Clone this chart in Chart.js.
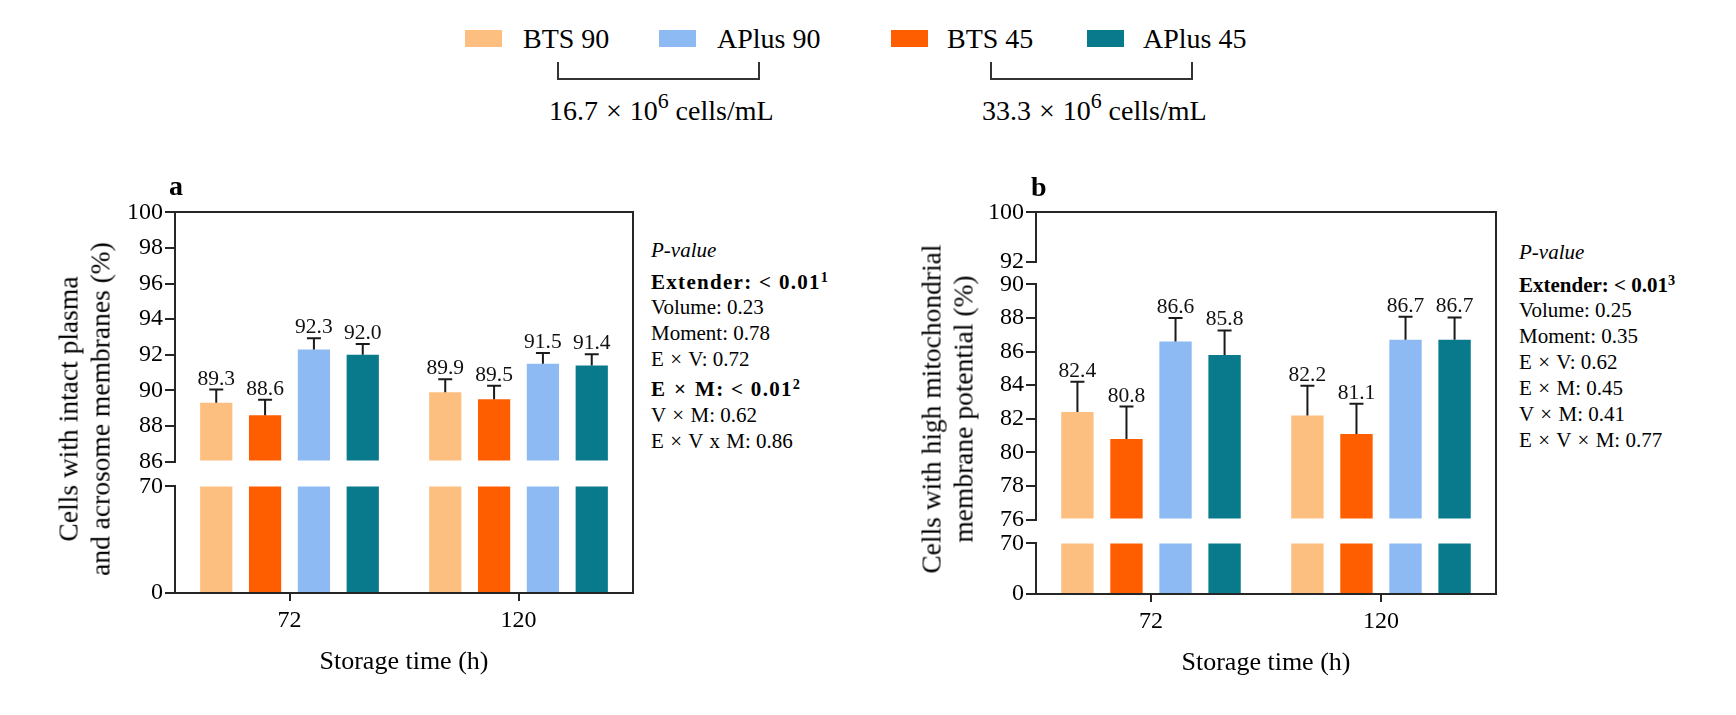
<!DOCTYPE html>
<html><head><meta charset="utf-8">
<script src="https://cdn.jsdelivr.net/npm/chart.js@4.4.1/dist/chart.umd.min.js"></script>
<style>
html,body{margin:0;padding:0;background:#fff;}
#page{position:relative;width:1736px;height:715px;overflow:hidden;font-family:"Liberation Serif","Times New Roman",serif;color:#000;background:#fff;}
.abs{position:absolute;white-space:nowrap;}
canvas{position:absolute;}
.sup{position:relative;top:-0.5em;font-size:0.68em;}
.sup6{position:relative;top:-0.55em;font-size:0.78em;}
.x{margin:0 1.2px;}
.xl{margin:0 1px;}
</style></head><body><div id="page"></div>
<script>
// ---------------- DATA ----------------
const categories = ['72', '120'];
const seriesNames = ['BTS 90', 'BTS 45', 'APlus 90', 'APlus 45'];
const seriesColors = ['#FDBF80', '#FF5E00', '#8EBAF3', '#087A8B'];
const legendOrder = ['BTS 90', 'APlus 90', 'BTS 45', 'APlus 45'];

// Panel a: cells with intact plasma and acrosome membranes (%)
const aBTS90 = [89.3, 89.9];
const aBTS45 = [88.6, 89.5];
const aAPlus90 = [92.3, 91.5];
const aAPlus45 = [92.0, 91.4];
const aBTS90Err = [0.75, 0.73];
const aBTS45Err = [0.88, 0.76];
const aAPlus90Err = [0.63, 0.60];
const aAPlus45Err = [0.60, 0.63];

// Panel b: cells with high mitochondrial membrane potential (%)
const bBTS90 = [82.4, 82.2];
const bBTS45 = [80.8, 81.1];
const bAPlus90 = [86.6, 86.7];
const bAPlus45 = [85.8, 86.7];
const bBTS90Err = [1.80, 1.76];
const bBTS45Err = [1.93, 1.79];
const bAPlus90Err = [1.40, 1.37];
const bAPlus45Err = [1.46, 1.33];

// Tick labels of the broken y axes
const aUpperTicks = [86, 88, 90, 92, 94, 96, 98, 100];
const aLowerTicks = [0, 70];
const bTopTicks = [92, 100];
const bMiddleTicks = [76, 78, 80, 82, 84, 86, 88, 90];
const bLowerTicks = [0, 70];

const xTitle = 'Storage time (h)';
const aYTitle = ['Cells with intact plasma', 'and acrosome membranes (%)'];
const bYTitle = ['Cells with high mitochondrial', 'membrane potential (%)'];

const X = ' <span class="x">×</span> ';
const pValuesA = [
  ['i', 'P-value'], ['bs', 'Extender: &lt; 0.01<span class="sup">1</span>'], ['n', 'Volume: 0.23'],
  ['n', 'Moment: 0.78'], ['n', 'E' + X + 'V: 0.72'], ['bs', 'E' + X + 'M: &lt; 0.01<span class="sup">2</span>'],
  ['n', 'V' + X + 'M: 0.62'], ['n', 'E' + X + 'V <span class="x">x</span> M: 0.86']
];
const pValuesB = [
  ['i', 'P-value'], ['b', 'Extender: &lt; 0.01<span class="sup">3</span>'], ['n', 'Volume: 0.25'],
  ['n', 'Moment: 0.35'], ['n', 'E' + X + 'V: 0.62'], ['n', 'E' + X + 'M: 0.45'],
  ['n', 'V' + X + 'M: 0.41'], ['n', 'E' + X + 'V' + X + 'M: 0.77']
];
const groupLabels = ['16.7 <span class="xl">×</span> 10<span class="sup6">6</span> cells/mL', '33.3 <span class="xl">×</span> 10<span class="sup6">6</span> cells/mL'];

// ---------------- RENDER ----------------
const page = document.getElementById('page');
const FF = '"Liberation Serif", "Times New Roman", serif';
const AX = '#262626';

function addDiv(html, css) {
  const d = document.createElement('div');
  d.className = 'abs';
  d.innerHTML = html;
  Object.assign(d.style, css);
  page.appendChild(d);
  return d;
}

const barDecor = {
  id: 'barDecor',
  afterDatasetsDraw(chart, args, opts) {
    if (!opts.show) return;
    const ctx = chart.ctx;
    const ys = chart.scales.y;
    chart.data.datasets.forEach((ds, di) => {
      const meta = chart.getDatasetMeta(di);
      meta.data.forEach((bar, i) => {
        const v = ds.means[i], e = ds.errs[i];
        const yBar = ys.getPixelForValue(v);
        const yCap = ys.getPixelForValue(v + e);
        ctx.save();
        ctx.strokeStyle = '#1a1a1a';
        ctx.lineWidth = 2;
        ctx.beginPath();
        ctx.moveTo(bar.x, yBar); ctx.lineTo(bar.x, yCap);
        ctx.moveTo(bar.x - 7, yCap); ctx.lineTo(bar.x + 7, yCap);
        ctx.stroke();
        ctx.fillStyle = '#111';
        ctx.font = '21.5px ' + FF;
        ctx.textAlign = 'center';
        ctx.textBaseline = 'alphabetic';
        ctx.fillText(v.toFixed(1), bar.x, yCap - 5);
        ctx.restore();
      });
    });
  }
};

function segment(o) {
  const YW = 80, PT = 16, PB = 16, PR = 6, XH = 90;
  const h = o.bottom - o.top, w = o.R - o.L;
  const cw = YW + w + PR, ch = PT + h + (o.showX ? XH : PB);
  const cv = document.createElement('canvas');
  cv.width = cw; cv.height = ch;
  cv.style.left = (o.L - YW) + 'px';
  cv.style.top = (o.top - PT) + 'px';
  cv.style.width = cw + 'px';
  cv.style.height = ch + 'px';
  page.appendChild(cv);
  new Chart(cv, {
    type: 'bar',
    data: {
      labels: categories,
      datasets: o.series.map((s, k) => ({
        label: seriesNames[k], data: s[0], means: s[0], errs: s[1],
        backgroundColor: seriesColors[k], borderWidth: 0, base: o.min, clip: 0,
        categoryPercentage: 0.853, barPercentage: 0.66
      }))
    },
    options: {
      responsive: false, animation: false, devicePixelRatio: 1,
      layout: { padding: { left: 0, right: PR, top: PT, bottom: o.showX ? 0 : PB } },
      plugins: { legend: { display: false }, tooltip: { enabled: false }, barDecor: { show: o.decor } },
      scales: {
        x: {
          type: 'category', display: o.showX, offset: true,
          grid: { display: true, drawOnChartArea: false, offset: false, tickLength: 8, color: AX, lineWidth: 2 },
          border: { display: true, color: AX, width: 2 },
          ticks: { font: { family: FF, size: 24 }, color: '#000', padding: 5, maxRotation: 0, autoSkip: false },
          title: { display: true, text: xTitle, font: { family: FF, size: 26 }, color: '#000', padding: { top: 0, bottom: 5 } },
          afterFit: s => { if (o.showX) s.height = XH; else s.height = 0; }
        },
        y: {
          type: 'linear', min: o.min, max: o.max,
          afterBuildTicks: s => { s.ticks = o.ticks.map(v => ({ value: v })); },
          grid: { display: true, drawOnChartArea: false, tickLength: 10, color: AX, lineWidth: 2 },
          border: { display: true, color: AX, width: 2 },
          ticks: { font: { family: FF, size: 24 }, color: '#000', padding: 2, autoSkip: false },
          afterFit: s => { s.width = YW; }
        }
      }
    },
    plugins: [barDecor]
  });
}

const seriesA = [[aBTS90, aBTS90Err], [aBTS45, aBTS45Err], [aAPlus90, aAPlus90Err], [aAPlus45, aAPlus45Err]];
const seriesB = [[bBTS90, bBTS90Err], [bBTS45, bBTS45Err], [bAPlus90, bAPlus90Err], [bAPlus45, bAPlus45Err]];

// Panel a (broken axis: 86-100 and 0-70)
segment({ L: 175, R: 633, top: 212, bottom: 462, min: 86, max: 100, ticks: aUpperTicks, showX: false, decor: true, series: seriesA });
segment({ L: 175, R: 633, top: 486, bottom: 593, min: 0, max: 70, ticks: aLowerTicks, showX: true, decor: false, series: seriesA });
// Panel b (broken axis: 92-100, 76-90, 0-70)
segment({ L: 1036, R: 1496, top: 212, bottom: 262, min: 92, max: 100, ticks: bTopTicks, showX: false, decor: false, series: seriesB });
segment({ L: 1036, R: 1496, top: 284, bottom: 520, min: 76, max: 90, ticks: bMiddleTicks, showX: false, decor: true, series: seriesB });
segment({ L: 1036, R: 1496, top: 543, bottom: 594, min: 0, max: 70, ticks: bLowerTicks, showX: true, decor: false, series: seriesB });

// Frames (top + right)
addDiv('', { left: '175px', top: '211px', width: '459px', height: '382px', borderTop: '2px solid ' + AX, borderRight: '2px solid ' + AX, boxSizing: 'border-box' });
addDiv('', { left: '1036px', top: '211px', width: '461px', height: '383px', borderTop: '2px solid ' + AX, borderRight: '2px solid ' + AX, boxSizing: 'border-box' });

// Panel letters
addDiv('a', { left: '169px', top: '169.5px', fontSize: '28px', lineHeight: '32px', fontWeight: 'bold' });
addDiv('b', { left: '1031px', top: '170.5px', fontSize: '28px', lineHeight: '32px', fontWeight: 'bold' });

// Y-axis titles
function yTitle(lines, cx, cy) {
  addDiv(lines.join('<br>'), { left: cx + 'px', top: cy + 'px', fontSize: '27.5px', lineHeight: '31.5px', textAlign: 'center',
    transform: 'translate(-50%,-50%) rotate(-90deg)' });
}
yTitle(aYTitle, 84, 409);
yTitle(bYTitle, 946.5, 409);

// P-value blocks
function pBlock(rows, x, centers) {
  rows.forEach((r, i) => {
    const css = { left: x + 'px', top: (centers[i] - 12) + 'px', fontSize: '21px', lineHeight: '24px' };
    if (r[0] === 'i') css.fontStyle = 'italic';
    if (r[0][0] === 'b') css.fontWeight = 'bold';
    if (r[0] === 'bs') css.letterSpacing = '1.3px';
    addDiv(r[1], css);
  });
}
pBlock(pValuesA, 651, [250, 282, 307, 333, 359, 389, 415, 441]);
pBlock(pValuesB, 1519, [252, 285, 310, 336, 362, 388, 414, 440]);

// Legend
const legendBoxX = [465, 659, 891, 1087];
const legendTextX = [523, 717, 947, 1143];
legendOrder.forEach((name, i) => {
  const c = seriesColors[seriesNames.indexOf(name)];
  addDiv('', { left: legendBoxX[i] + 'px', top: '30px', width: '37px', height: '17px', background: c });
  addDiv(name, { left: legendTextX[i] + 'px', top: '23px', fontSize: '28px', lineHeight: '32px' });
});

// Brackets and group labels
[[557, 202.5], [990, 202.5]].forEach((b, i) => {
  addDiv('', { left: b[0] + 'px', top: '61.5px', width: b[1] + 'px', height: '18px', borderLeft: '2px solid #333',
    borderRight: '2px solid #333', borderBottom: '2px solid #333', boxSizing: 'border-box' });
  addDiv(groupLabels[i], { left: (b[0] + b[1] / 2 + 3) + 'px', top: '95px', fontSize: '28px', lineHeight: '32px',
    transform: 'translateX(-50%)' });
});
</script></body></html>
